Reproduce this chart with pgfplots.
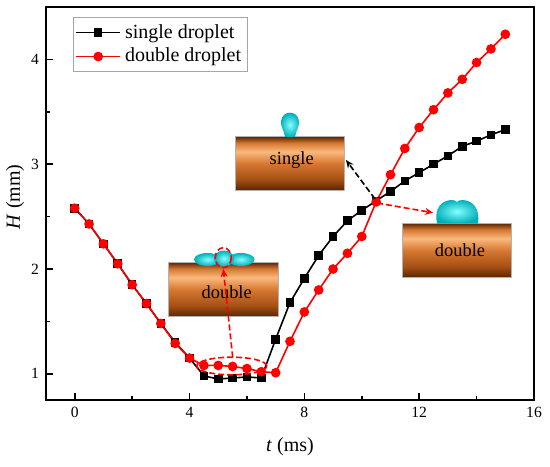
\documentclass[border=0pt]{standalone}
\usepackage{pgfplots}
\pgfplotsset{compat=1.18}
\usepackage{fontspec}
\setmainfont{Liberation Serif}
\usetikzlibrary{arrows.meta}
\definecolor{cdark}{RGB}{90,38,5}
\definecolor{cmid}{RGB}{165,80,20}
\definecolor{corange}{RGB}{215,120,50}
\definecolor{clight}{RGB}{250,185,125}
\definecolor{dropin}{RGB}{130,255,255}
\definecolor{dropout}{RGB}{0,175,185}
\pgfdeclareverticalshading{copper}{100bp}{color(0bp)=(cdark); color(25bp)=(cdark); color(35bp)=(cmid); color(50bp)=(corange); color(61bp)=(clight); color(69bp)=(corange); color(75bp)=(cdark); color(100bp)=(cdark)}
\pgfplotstableread{
t H
0 2.58
0.5 2.43
1 2.24
1.5 2.05
2 1.85
2.5 1.67
3 1.48
3.5 1.30
4 1.15
4.5 0.98
5 0.95
5.5 0.96
6 0.97
6.5 0.96
7 1.33
7.5 1.68
8 1.91
8.5 2.13
9 2.31
9.5 2.46
10 2.56
10.5 2.65
11 2.74
11.5 2.84
12 2.92
12.5 3.00
13 3.08
13.5 3.17
14 3.22
14.5 3.28
15 3.33
}\single
\pgfplotstableread{
t H
0 2.58
0.5 2.43
1 2.24
1.5 2.05
2 1.85
2.5 1.67
3 1.48
3.5 1.29
4 1.15
4.5 1.08
5 1.08
5.5 1.07
6 1.05
6.5 1.02
7 1.01
7.5 1.31
8 1.59
8.5 1.80
9 2.00
9.5 2.15
10 2.31
10.5 2.64
11 2.90
11.5 3.15
12 3.35
12.5 3.52
13 3.68
13.5 3.81
14 3.97
14.5 4.10
15 4.24
}\double
\begin{document}
\begin{tikzpicture}
\path[use as bounding box] (-23pt,-33pt) rectangle (252pt,200pt);
\begin{axis}[
  at={(0,0)}, anchor=south west,
  scale only axis, width=244pt, height=196.5pt,
  xmin=-1, xmax=16, ymin=0.75, ymax=4.5,
  xtick={0,4,8,12,16}, ytick={1,2,3,4},
  xticklabels={0,4,8,12,16}, yticklabels={1,2,3,4},
  minor xtick={2,6,10,14}, minor ytick={1.5,2.5,3.5},
  tick align=inside, xtick pos=left, ytick pos=left,
  major tick length=3.5pt, minor tick length=2pt,
  axis line style={line width=0.9pt},
  every tick/.style={black, line width=0.8pt},
  tick label style={font=\rmfamily\fontsize{7.8}{9}\selectfont},
  xlabel={\textit{t} (ms)},
  label style={font=\fontsize{10}{12}\selectfont},
  xlabel style={at={([yshift=-23.5pt]axis description cs:0.5,0)}, anchor=center},
  legend cell align=left,
  legend style={at={(axis description cs:0,1)}, anchor=north west, xshift=13.3pt, yshift=-5.2pt,
    draw=gray!70, line width=0.4pt, font=\fontsize{10}{12}\selectfont, inner sep=1.2pt, row sep=-0.5pt},
  legend image code/.code={\draw[#1, mark repeat=2, mark phase=2] plot coordinates {(0pt,0pt) (11pt,0pt) (22pt,0pt)};},
]
\addplot[black, line width=0.8pt, mark=square*, mark size=1.75pt, mark options={solid}] table[x=t,y=H] {\single};
\addlegendentry{single droplet}
\addplot[red, line width=0.8pt, mark=*, mark size=2pt, mark options={solid}] table[x=t,y=H] {\double};
\addlegendentry{double droplet}
\end{axis}
\node[rotate=90, font=\fontsize{10}{12}\selectfont] at (-15.5pt,101.6pt) {\textit{H} (mm)};
\begin{scope}[x=0.5pt, y=-0.5pt, shift={(-23pt,200pt)}]
  % blocks
  \shade[shading=copper, draw=gray!60, line width=0.3pt] (235,136.7) rectangle (344,190);
  \shade[shading=copper, draw=gray!60, line width=0.3pt] (402.3,223.3) rectangle (511.7,277.3);
  \shade[shading=copper, draw=gray!60, line width=0.3pt] (168.3,262.3) rectangle (278.3,316.7);
  \node[font=\fontsize{9.2}{11}\selectfont] at (291.7,160) {single};
  \node[font=\fontsize{9.2}{11}\selectfont] at (460,250) {double};
  \node[font=\fontsize{9.2}{11}\selectfont] at (226.7,292) {double};
  % single droplet
  \shade[inner color=dropin, outer color=dropout]
    (285,137) .. controls (284,130) and (280,126) .. (281,121)
    .. controls (282,115) and (286,112.7) .. (290,112.7)
    .. controls (294,112.7) and (298,115) .. (299,121)
    .. controls (300,126) and (296,130) .. (295,137) -- cycle;
  % right dome
  \shade[inner color=dropin, outer color=dropout]
    (437,223.5) .. controls (434,208) and (441,201) .. (451,200)
    .. controls (454,199.5) and (456,201) .. (457,202)
    .. controls (458,201) and (460,199.5) .. (463,200)
    .. controls (473,201) and (480,208) .. (478,223.5) -- cycle;
  % left lobes
  \shade[inner color=dropin, outer color=dropout] (207.5,259.5) ellipse [x radius=13.5, y radius=6.5];
  \shade[inner color=dropin, outer color=dropout] (241,259.5) ellipse [x radius=13.5, y radius=6.5];
  \shade[inner color=dropin, outer color=dropout] (224,258.5) ellipse [x radius=10, y radius=8];
  % annotations
  \draw[red, line width=0.8pt, dash pattern=on 3pt off 1.5pt] (223.3,257.7) ellipse [x radius=8, y radius=10];
  \draw[red, line width=0.8pt, dash pattern=on 3pt off 1.5pt] (231.7,366) ellipse [x radius=35, y radius=8.8];
  \draw[red, line width=0.8pt, dash pattern=on 3pt off 1.5pt, -{Stealth[length=4pt,width=3.5pt]}] (232.7,357.3) -- (223.3,269);
  \draw[black, line width=0.8pt, dash pattern=on 3pt off 1.5pt, -{Stealth[length=4pt,width=3.5pt]}] (375,199) -- (346,160);
  \draw[red, line width=0.8pt, dash pattern=on 3pt off 1.5pt, -{Stealth[length=4pt,width=3.5pt]}] (377,203) -- (433,212.7);
\end{scope}
\end{tikzpicture}
\end{document}
